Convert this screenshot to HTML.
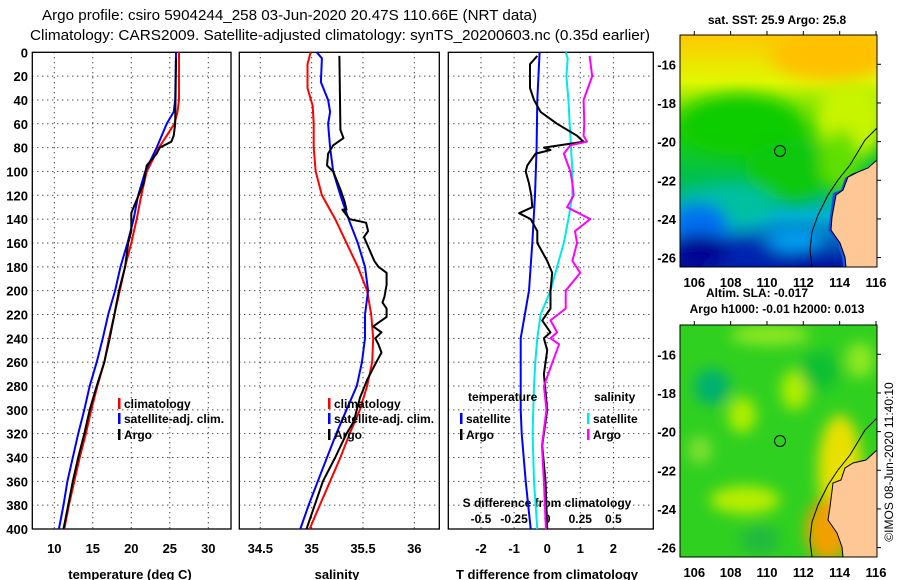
<!DOCTYPE html>
<html><head><meta charset="utf-8"><style>
html,body{margin:0;padding:0;background:#fff;}
svg{display:block;font-family:"Liberation Sans",sans-serif;}
.t{font-weight:bold;font-size:13px;fill:#000;}
</style></head><body>
<svg id="chart" width="900" height="580" viewBox="0 0 900 580" xmlns="http://www.w3.org/2000/svg">
<defs>
<filter id="blur1" x="-20%" y="-20%" width="140%" height="140%"><feGaussianBlur stdDeviation="8"/></filter>
<filter id="blur2" x="-20%" y="-20%" width="140%" height="140%"><feGaussianBlur stdDeviation="7"/></filter>
<clipPath id="m1c"><rect x="680" y="35" width="197" height="232"/></clipPath>
<clipPath id="m2c"><rect x="680" y="325" width="197" height="232"/></clipPath>
<linearGradient id="sstg" x1="0" y1="0" x2="0" y2="1">
<stop offset="0" stop-color="#ffc800"/><stop offset="0.2" stop-color="#e0f800"/><stop offset="0.4" stop-color="#20d000"/><stop offset="0.62" stop-color="#00c050"/><stop offset="0.78" stop-color="#00b0d0"/><stop offset="1" stop-color="#0010a0"/></linearGradient>
</defs>
<text class="t" x="42" y="20" textLength="495" lengthAdjust="spacingAndGlyphs" style="font-weight:normal;font-size:15px">Argo profile: csiro 5904244_258 03-Jun-2020 20.47S 110.66E (NRT data)</text>
<text class="t" x="30" y="40" textLength="620" lengthAdjust="spacingAndGlyphs" style="font-weight:normal;font-size:15px">Climatology: CARS2009. Satellite-adjusted climatology: synTS_20200603.nc (0.35d earlier)</text>
<g id="plots"></g>
<g id="maps">
 <g clip-path="url(#m1c)">
  <rect x="680" y="35" width="197" height="232" fill="url(#sstg)"/>
  <g filter="url(#blur1)">
   <ellipse cx="830" cy="55" rx="60" ry="25" fill="#ffc000"/>
   <ellipse cx="850" cy="120" rx="35" ry="40" fill="#c8f400"/>
   <ellipse cx="740" cy="125" rx="60" ry="30" fill="#10cc00"/>
   <ellipse cx="790" cy="170" rx="45" ry="30" fill="#10c810"/>
   <ellipse cx="840" cy="160" rx="20" ry="30" fill="#60e000"/>
   <ellipse cx="730" cy="205" rx="45" ry="20" fill="#00c0a0"/>
   <ellipse cx="700" cy="225" rx="28" ry="22" fill="#0070f0"/>
   <ellipse cx="740" cy="258" rx="55" ry="14" fill="#0020b0"/>
   <ellipse cx="700" cy="250" rx="28" ry="16" fill="#000090"/>
   <ellipse cx="795" cy="240" rx="28" ry="12" fill="#00a0f0"/>
  </g>
  <path d="M877,160 L866,170 L853,173 L845,178 L841,190 L833,193 L830,217 L828,230 L837,243 L842,257 L843,267 L877,267 Z" fill="#1a50e0"/>
  <path d="M877,160 L868,168 L858,172 L848,177 L843,190 L836,195 L832,217 L831,230 L840,243 L845,257 L846,267 L877,267 Z" fill="#fdc896" stroke="#000" stroke-width="1"/>
  <path d="M877,128 L865,140 L850,165 L838,180 L828,195 L818,215 L812,232 L810,250 L812,267" fill="none" stroke="#000" stroke-width="1"/>
  <circle cx="780" cy="151" r="5.5" fill="none" stroke="#000" stroke-width="1"/>
 </g>
 <rect x="680" y="35" width="197" height="232" fill="none" stroke="#000" stroke-width="1"/>
 <g clip-path="url(#m2c)">
  <rect x="680" y="325" width="197" height="232" fill="#30d020"/>
  <g filter="url(#blur2)">
   <ellipse cx="712" cy="387" rx="18" ry="18" fill="#00b070"/>
   <ellipse cx="770" cy="335" rx="40" ry="10" fill="#90e820"/>
   <ellipse cx="795" cy="390" rx="14" ry="20" fill="#b0ee00"/>
   <ellipse cx="742" cy="415" rx="14" ry="18" fill="#b0ee00"/>
   <ellipse cx="860" cy="360" rx="14" ry="18" fill="#90e820"/>
   <ellipse cx="840" cy="470" rx="22" ry="55" fill="#e8e000"/>
   <ellipse cx="828" cy="530" rx="22" ry="32" fill="#f0a000"/>
   <ellipse cx="745" cy="500" rx="35" ry="14" fill="#b8ee00"/>
   <ellipse cx="700" cy="450" rx="12" ry="14" fill="#80e030"/>
   <ellipse cx="820" cy="370" rx="20" ry="20" fill="#10c030"/>
   <ellipse cx="760" cy="540" rx="20" ry="14" fill="#20b840"/>
  </g>
  <path d="M877,450 L866,460 L853,463 L845,468 L841,480 L833,483 L830,507 L828,520 L837,533 L842,547 L843,557 L877,557 Z" fill="#fdc896" stroke="#000" stroke-width="1"/>
  <path d="M877,418 L865,430 L850,455 L838,470 L828,485 L818,505 L812,522 L810,540 L812,557" fill="none" stroke="#000" stroke-width="1"/>
  <circle cx="780" cy="441" r="5.5" fill="none" stroke="#000" stroke-width="1"/>
 </g>
 <rect x="680" y="325" width="197" height="232" fill="none" stroke="#000" stroke-width="1"/>
 <text class="t" x="777" y="24" text-anchor="middle" style="font-size:12px">sat. SST: 25.9 Argo: 25.8</text>
 <text class="t" x="757" y="297" text-anchor="middle" style="font-size:12px">Altim. SLA: -0.017</text>
 <text class="t" x="777" y="313" text-anchor="middle" style="font-size:12px">Argo h1000: -0.01 h2000: 0.013</text>
 <text x="0" y="0" transform="translate(893,462) rotate(-90)" text-anchor="middle" style="font-size:12px">©IMOS 08-Jun-2020 11:40:10</text>
 <g id="mapticks"></g>
</g>
</svg>
<script>
const tempTicks = [10, 15, 20, 25, 30];
const salTicks = [34.5, 35, 35.5, 36];
const salTickLabels = ["34.5", "35", "35.5", "36"];
const dTTicks = [-2, -1, 0, 1, 2];
const dSTicks = [-0.5, -0.25, 0, 0.25, 0.5];
const dSTickLabels = ["-0.5", "-0.25", "0", "0.25", "0.5"];
const depthTicks = [0,20,40,60,80,100,120,140,160,180,200,220,240,260,280,300,320,340,360,380,400];

const climDepth = [0,40,50,60,80,100,120,140,160,180,200,220,240,260,280,300,320,340,360,380,400];
const climTemp  = [26.2,26.2,26.0,25.6,23.6,22.0,21.3,20.7,20.0,19.2,18.5,17.8,17.1,16.5,15.6,14.8,14.1,13.3,12.6,11.9,11.3];
const satTemp   = [25.8,25.7,25.5,24.6,23.3,21.8,20.9,20.3,19.5,18.6,17.9,17.0,16.3,15.5,14.6,13.9,13.1,12.4,11.7,11.2,10.6];
const argoTDepth = [5,60,70,75,80,85,95,110,130,135,150,160,180,200,220,240,260,280,300,320,340,360,380,400];
const argoTemp   = [25.8,25.7,25.5,25.2,23.7,23.3,22.0,21.6,20.3,20.0,20.0,19.6,19.2,18.4,17.8,17.2,16.5,15.5,14.6,13.9,13.1,12.4,11.8,11.2];

const salDepth = [0,10,30,45,60,80,100,120,140,160,180,200,220,240,260,280,300,320,340,360,380,400];
const climSal  = [34.99,34.96,34.96,35.01,35.02,35.02,35.04,35.10,35.23,35.34,35.45,35.54,35.58,35.60,35.59,35.54,35.47,35.37,35.28,35.18,35.08,34.98];
const satSalDepth = [0,5,25,40,50,60,80,100,120,140,160,180,200,220,240,260,280,300,320,340,360,380,400];
const satSal   = [35.05,35.10,35.09,35.16,35.18,35.16,35.18,35.21,35.28,35.36,35.45,35.52,35.55,35.52,35.52,35.49,35.44,35.34,35.24,35.15,35.06,34.97,34.89];
const argoSDepth = [3,65,72,78,85,95,100,115,125,132,132,140,143,150,155,165,175,180,185,195,205,210,215,222,230,235,240,245,252,260,275,290,310,320,340,360,380,400];
const argoSal  = [35.27,35.28,35.31,35.21,35.16,35.15,35.21,35.28,35.32,35.34,35.30,35.37,35.53,35.55,35.51,35.56,35.61,35.65,35.73,35.73,35.71,35.69,35.73,35.73,35.60,35.68,35.62,35.65,35.68,35.63,35.54,35.47,35.41,35.34,35.23,35.11,35.03,34.95];

const dTSatDepth = [0,40,80,120,160,200,240,280,300,320,360,400];
const dTSat = [-0.23,-0.30,-0.32,-0.37,-0.45,-0.55,-0.80,-0.80,-0.80,-0.77,-0.65,-0.50];
const dTArgoDepth = [3,10,30,40,50,60,70,75,80,82,85,95,100,110,120,130,135,140,150,160,165,175,185,200,215,225,235,240,250,270,300,330,360,400];
const dTArgo = [-0.30,-0.52,-0.52,-0.40,-0.20,0.30,0.90,1.10,-0.10,0.10,-0.35,-0.60,-0.65,-0.55,-0.48,-0.45,-0.85,-0.50,-0.30,-0.30,-0.20,0.00,0.15,0.10,0.10,-0.15,0.10,-0.10,0.00,-0.10,0.00,-0.15,-0.05,0.00];
const dSSatDepth = [0,5,20,40,60,80,100,120,140,160,180,200,220,240,260,280,320,360,400];
const dSSat = [0.14,0.155,0.145,0.16,0.17,0.18,0.19,0.19,0.16,0.125,0.075,0.025,-0.05,-0.075,-0.09,-0.10,-0.11,-0.10,-0.075];
const dSArgoDepth = [3,20,40,60,70,75,78,85,100,110,120,130,140,150,160,175,185,200,215,225,235,240,245,260,280,300,330,360,400];
const dSArgo = [0.32,0.34,0.275,0.28,0.275,0.30,0.175,0.125,0.175,0.19,0.20,0.15,0.325,0.21,0.225,0.19,0.25,0.14,0.14,0.025,0.075,0.025,0.09,0.04,-0.025,-0.005,-0.04,-0.025,-0.01];

const lonTicks = [106,108,110,112,114,116];
const latTicks = [-16,-18,-20,-22,-24,-26];

const NS = "http://www.w3.org/2000/svg";
const Y0 = 52.3, Y1 = 529;
const yD = d => Y0 + d * (Y1 - Y0) / 400;
const P1 = {l:32.3, r:231}, P2 = {l:239.3, r:439.3}, P3 = {l:448.3, r:653.3};
const xT = v => 54.3 + (v - 10) * 7.7;
const xS = v => 260.3 + (v - 34.5) * 102.67;
const xDT = v => 547.2 + v * 33.1;
const xDS = v => 547.2 + v * 132.4;
const mapX = lon => 694.3 + (lon - 106) * 18.17;
const mapY = lat => 64.3 + (-16 - lat) * 19.33;

const root = document.getElementById('plots');
function mk(tag, attrs, parent) {
  const e = document.createElementNS(NS, tag);
  for (const k in attrs) e.setAttribute(k, attrs[k]);
  (parent || root).appendChild(e);
  return e;
}
function txt(s, x, y, anchor, size, parent) {
  const e = mk('text', {x:x, y:y, 'text-anchor':anchor, class:'t', style:'font-size:' + size + 'px'}, parent);
  e.textContent = s;
  return e;
}
function panel(P, xTicks, xf, name) {
  const g = mk('g', {});
  
  
  depthTicks.forEach(d => {
    if (d === 0 || d === 400) return;
    const l = mk('line', {x1:P.l, x2:P.r, y1:yD(d), y2:yD(d), stroke:'#000', 'stroke-width':1, 'stroke-dasharray':'1,4'}, g);
    
    
  });
  xTicks.forEach(v => {
    const l = mk('line', {x1:xf(v), x2:xf(v), y1:Y0, y2:Y1, stroke:'#000', 'stroke-width':1, 'stroke-dasharray':'1,4'}, g);
    
    
  });
  const f = mk('rect', {x:P.l, y:Y0, width:P.r - P.l, height:Y1 - Y0, fill:'none', stroke:'#000', 'stroke-width':1.3}, g);
  
  
  return g;
}
function line(depths, vals, xf, color, w, name, g) {
  const pts = depths.map((d, i) => xf(vals[i]).toFixed(1) + ',' + yD(d).toFixed(1)).join(' ');
  const p = mk('polyline', {points:pts, fill:'none', stroke:color, 'stroke-width':w, 'stroke-linejoin':'round'}, g);
  
  
}
function legendEntry(x, y, color, label, g) {
  const r = mk('rect', {x:x, y:y - 10, width:2.5, height:11, fill:color}, g);
  
  
  const t = txt(label, x + 6, y, 'start', 12, g);
  
  
}

const g1 = panel(P1, tempTicks, xT, 'temperature-panel');
depthTicks.forEach(d => {
  const t = txt(String(d), 28, yD(d) + 5, 'end', 13, g1);
  
  
});
tempTicks.forEach(v => {
  const t = txt(String(v), xT(v), 553, 'middle', 13, g1);
  
  
});
const xt1 = txt('temperature (deg C)', 130, 579, 'middle', 13, g1);


line(climDepth, climTemp, xT, '#ff0000', 2, 'climatology-temperature-line', g1);
line(climDepth, satTemp, xT, '#0000ff', 2, 'satellite-temperature-line', g1);
line(argoTDepth, argoTemp, xT, '#000000', 2, 'argo-temperature-line', g1);
legendEntry(118, 408, '#ff0000', 'climatology', g1);
legendEntry(118, 423, '#0000ff', 'satellite-adj. clim.', g1);
legendEntry(118, 439, '#000000', 'Argo', g1);

const g2 = panel(P2, salTicks, xS, 'salinity-panel');
salTicks.forEach((v, i) => {
  const t = txt(salTickLabels[i], xS(v), 553, 'middle', 13, g2);
  
  
});
const xt2 = txt('salinity', 337, 579, 'middle', 13, g2);


line(salDepth, climSal, xS, '#ff0000', 2, 'climatology-salinity-line', g2);
line(satSalDepth, satSal, xS, '#0000ff', 2, 'satellite-salinity-line', g2);
line(argoSDepth, argoSal, xS, '#000000', 2, 'argo-salinity-line', g2);
legendEntry(328, 408, '#ff0000', 'climatology', g2);
legendEntry(328, 423, '#0000ff', 'satellite-adj. clim.', g2);
legendEntry(328, 439, '#000000', 'Argo', g2);

const g3 = panel(P3, dTTicks, xDT, 'difference-panel');
dTTicks.forEach(v => {
  const t = txt(String(v), xDT(v), 553, 'middle', 13, g3);
  
  
});
dSTicks.forEach((v, i) => {
  const t = txt(dSTickLabels[i], xDS(v), 523, 'middle', 12, g3);
  
  
});
const st = txt('S difference from climatology', 547, 507, 'middle', 12, g3);


const xt3 = txt('T difference from climatology', 547, 579, 'middle', 13, g3);


line(dTSatDepth, dTSat, xDT, '#0000ff', 2, 'satellite-t-difference-line', g3);
line(dSSatDepth, dSSat, xDS, '#00e8e8', 2, 'satellite-s-difference-line', g3);
line(dTArgoDepth, dTArgo, xDT, '#000000', 2, 'argo-t-difference-line', g3);
line(dSArgoDepth, dSArgo, xDS, '#ff00ff', 2, 'argo-s-difference-line', g3);
const lt = txt('temperature', 468, 401, 'start', 12, g3);


const ls = txt('salinity', 594, 401, 'start', 12, g3);


legendEntry(460, 423, '#0000ff', 'satellite', g3);
legendEntry(460, 439, '#000000', 'Argo', g3);
legendEntry(587, 423, '#00e8e8', 'satellite', g3);
legendEntry(587, 439, '#ff00ff', 'Argo', g3);

const mt = document.getElementById('mapticks');
[0, 290].forEach(off => {
  lonTicks.forEach(lon => {
    const x = mapX(lon);
    mk('line', {x1:x, x2:x, y1:35 + off, y2:31 + off, stroke:'#000'}, mt);
    const t = txt(String(lon), x, 287 + off, 'middle', 13, mt);
    
    
  });
  latTicks.forEach(lat => {
    const y = mapY(lat) + off;
    mk('line', {x1:877, x2:881, y1:y, y2:y, stroke:'#000'}, mt);
    const t = txt(String(lat), 676, y + 5, 'end', 13, mt);
    
    
  });
});
</script>
</body></html>
